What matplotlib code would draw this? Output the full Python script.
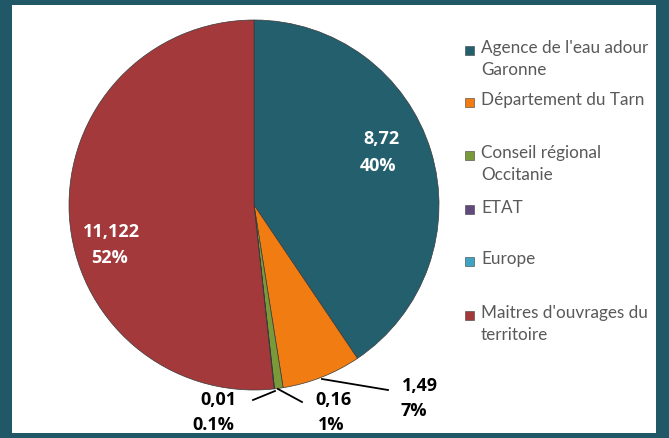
import numpy as np
import matplotlib.pyplot as plt
from matplotlib.patches import Rectangle

# data
categories = ["Agence de l'eau adour\nGaronne", "Département du Tarn",
              "Conseil régional\nOccitanie", "ETAT", "Europe",
              "Maitres d'ouvrages du\nterritoire"]
values = [8.72, 1.49, 0.16, 0.01, 0.0, 11.122]
value_labels = ["8,72", "1,49", "0,16", "0,01", "", "11,122"]
pct_labels = ["40%", "7%", "1%", "0.1%", "", "52%"]
colors = ["#245F6E", "#F07C12", "#7A9A3A", "#60497C", "#3FA3C2", "#A3393A"]

BORDER = "#215868"
W, H = 669, 438

fig = plt.figure(figsize=(W / 100, H / 100), dpi=100)
fig.patch.set_facecolor(BORDER)
fig.patches.append(Rectangle((12 / W, 5 / H), (656 - 12) / W, (433 - 5) / H,
                             transform=fig.transFigure, facecolor="white",
                             edgecolor="none", zorder=-5))

# pie axes: centre (254, 205) px, radius 185 px
cx, cy, r = 254, 205, 185
ax = fig.add_axes([(cx - r) / W, (H - cy - r) / H, 2 * r / W, 2 * r / H], zorder=2)
ax.patch.set_alpha(0)
wedges, _ = ax.pie(values, colors=colors, startangle=90, counterclock=False,
                   wedgeprops=dict(linewidth=0.5, edgecolor="#3a3a3a"))
ax.set_xlim(-1, 1)
ax.set_ylim(-1, 1)


def px(x, y):
    # pixel position -> pie data coords
    return ((x - cx) / r, (cy - y) / r)


label_font = dict(family=["Open Sans", "DejaVu Sans"], fontweight="bold", fontsize=13)

# labels inside the two big slices
inside = {0: ((381, 139), (378, 166)), 5: ((112, 232), (109, 258))}
for i, (p1, p2) in inside.items():
    ax.text(*px(*p1), value_labels[i], color="white", ha="center", va="center", **label_font)
    ax.text(*px(*p2), pct_labels[i], color="white", ha="center", va="center", **label_font)

# labels outside with leader lines
outside = {1: ((322, 379), (388, 390), (420, 386), (414, 411)),
           2: ((278, 389), (302, 402), (334, 400), (331, 425)),
           3: ((275, 391), (253, 400), (218, 400), (213, 425))}
for i, (a, b, t1, t2) in outside.items():
    ax.plot(*zip(px(*a), px(*b)), color="black", linewidth=1.3, clip_on=False)
    ax.text(*px(*t1), value_labels[i], color="black", ha="center", va="center", **label_font)
    ax.text(*px(*t2), pct_labels[i], color="black", ha="center", va="center", **label_font)

# legend
leg_y = [50, 102, 155, 210, 261, 315]
for cat, col, y in zip(categories, colors, leg_y):
    fig.patches.append(Rectangle((465 / W, (H - y - 4.5) / H), 9 / W, 9 / H,
                                 transform=fig.transFigure, facecolor=col,
                                 edgecolor="#404040", linewidth=0.4))
    fig.text(481 / W, (H - y + 10) / H, cat, family=["Lato", "DejaVu Sans"],
             fontsize=12.3, color="#595959", ha="left", va="top", linespacing=1.45)

fig.savefig("out.png", dpi=100, facecolor=fig.get_facecolor())
